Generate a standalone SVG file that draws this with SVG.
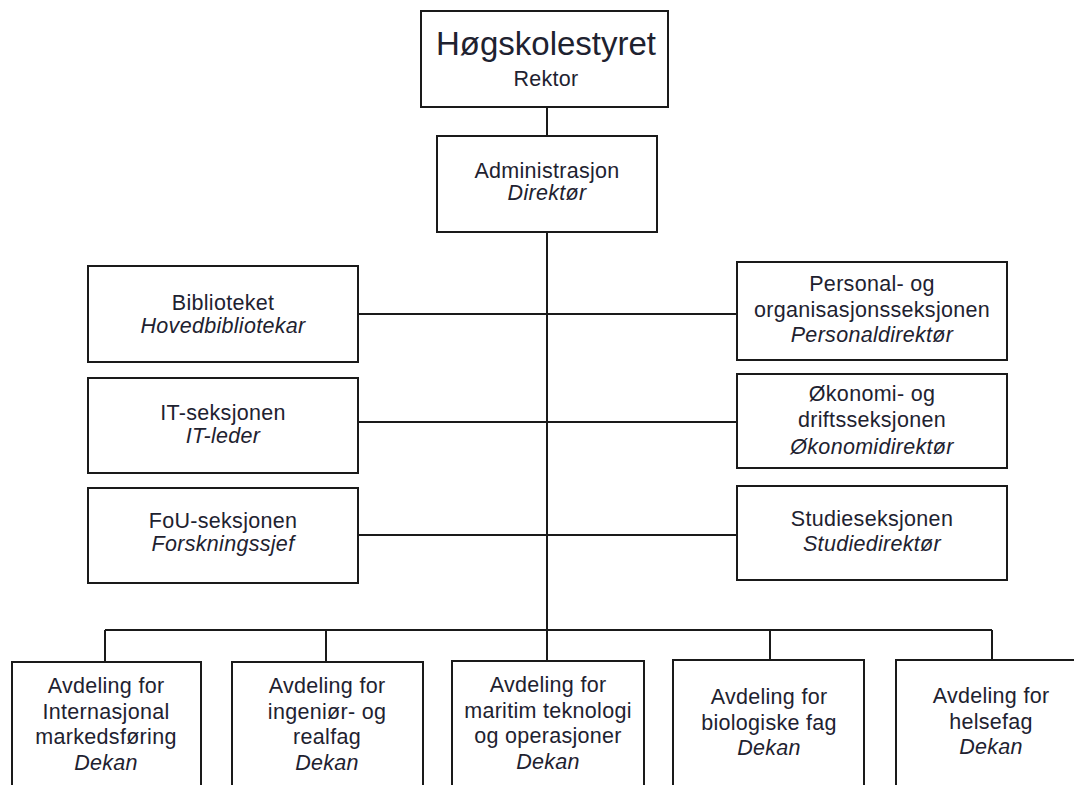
<svg xmlns="http://www.w3.org/2000/svg" width="1074" height="785" viewBox="0 0 1074 785">
<style>
.box{fill:#fff;stroke:#1a1a1a;stroke-width:2}
.ln{stroke:#1a1a1a;stroke-width:2;fill:none}
text{font-family:"Liberation Sans",Arial,sans-serif;font-size:21.5px;fill:#1e2230;text-anchor:middle;letter-spacing:0.3px}
.i{font-style:italic}
.t{font-size:33px;letter-spacing:0}
</style>
<rect width="1074" height="785" fill="#fff"/>
<g id="connectors">
<line class="ln" x1="547" y1="107" x2="547" y2="136"/>
<line class="ln" x1="547" y1="232" x2="547" y2="630"/>
<line class="ln" x1="358" y1="314" x2="737" y2="314"/>
<line class="ln" x1="358" y1="422" x2="737" y2="422"/>
<line class="ln" x1="358" y1="535" x2="737" y2="535"/>
<line class="ln" x1="105" y1="630" x2="992" y2="630"/>
<line class="ln" x1="105" y1="630" x2="105" y2="662"/>
<line class="ln" x1="326" y1="630" x2="326" y2="662"/>
<line class="ln" x1="547" y1="630" x2="547" y2="661"/>
<line class="ln" x1="770" y1="630" x2="770" y2="660"/>
<line class="ln" x1="992" y1="630" x2="992" y2="660"/>
</g>
<g id="hogskolestyret">
<rect class="box" x="421" y="11" width="247" height="96"/>
<text class="t" x="546" y="55">Høgskolestyret</text>
<text x="546" y="86">Rektor</text>
</g>
<g id="administrasjon">
<rect class="box" x="437" y="136" width="220" height="96"/>
<text x="547" y="178">Administrasjon</text>
<text class="i" x="547" y="200">Direktør</text>
</g>
<g id="biblioteket">
<rect class="box" x="88" y="266" width="270" height="96"/>
<text x="223" y="310">Biblioteket</text>
<text class="i" x="223" y="333">Hovedbibliotekar</text>
</g>
<g id="it">
<rect class="box" x="88" y="378" width="270" height="95"/>
<text x="223" y="420">IT-seksjonen</text>
<text class="i" x="223" y="443">IT-leder</text>
</g>
<g id="fou">
<rect class="box" x="88" y="488" width="270" height="95"/>
<text x="223" y="528">FoU-seksjonen</text>
<text class="i" x="223" y="551">Forskningssjef</text>
</g>
<g id="personal">
<rect class="box" x="737" y="262" width="270" height="98"/>
<text x="872" y="291">Personal- og</text>
<text x="872" y="317">organisasjonsseksjonen</text>
<text class="i" x="872" y="342">Personaldirektør</text>
</g>
<g id="okonomi">
<rect class="box" x="737" y="374" width="270" height="94"/>
<text x="872" y="401">Økonomi- og</text>
<text x="872" y="427">driftsseksjonen</text>
<text class="i" x="872" y="454">Økonomidirektør</text>
</g>
<g id="studie">
<rect class="box" x="737" y="486" width="270" height="94"/>
<text x="872" y="526">Studieseksjonen</text>
<text class="i" x="872" y="551">Studiedirektør</text>
</g>
<g id="avd-internasjonal">
<rect class="box" x="12" y="662" width="189" height="130"/>
<text x="106" y="693">Avdeling for</text>
<text x="106" y="719">Internasjonal</text>
<text x="106" y="744">markedsføring</text>
<text class="i" x="106" y="770">Dekan</text>
</g>
<g id="avd-ingenior">
<rect class="box" x="232" y="662" width="191" height="130"/>
<text x="327" y="693">Avdeling for</text>
<text x="327" y="719">ingeniør- og</text>
<text x="327" y="744">realfag</text>
<text class="i" x="327" y="770">Dekan</text>
</g>
<g id="avd-maritim">
<rect class="box" x="452" y="661" width="192" height="130"/>
<text x="548" y="692">Avdeling for</text>
<text x="548" y="718">maritim teknologi</text>
<text x="548" y="743">og operasjoner</text>
<text class="i" x="548" y="769">Dekan</text>
</g>
<g id="avd-biologi">
<rect class="box" x="673" y="660" width="191" height="130"/>
<text x="769" y="704">Avdeling for</text>
<text x="769" y="730">biologiske fag</text>
<text class="i" x="769" y="755">Dekan</text>
</g>
<g id="avd-helse">
<rect class="box" x="896" y="660" width="191" height="130"/>
<text x="991" y="703">Avdeling for</text>
<text x="991" y="729">helsefag</text>
<text class="i" x="991" y="754">Dekan</text>
</g>
</svg>
